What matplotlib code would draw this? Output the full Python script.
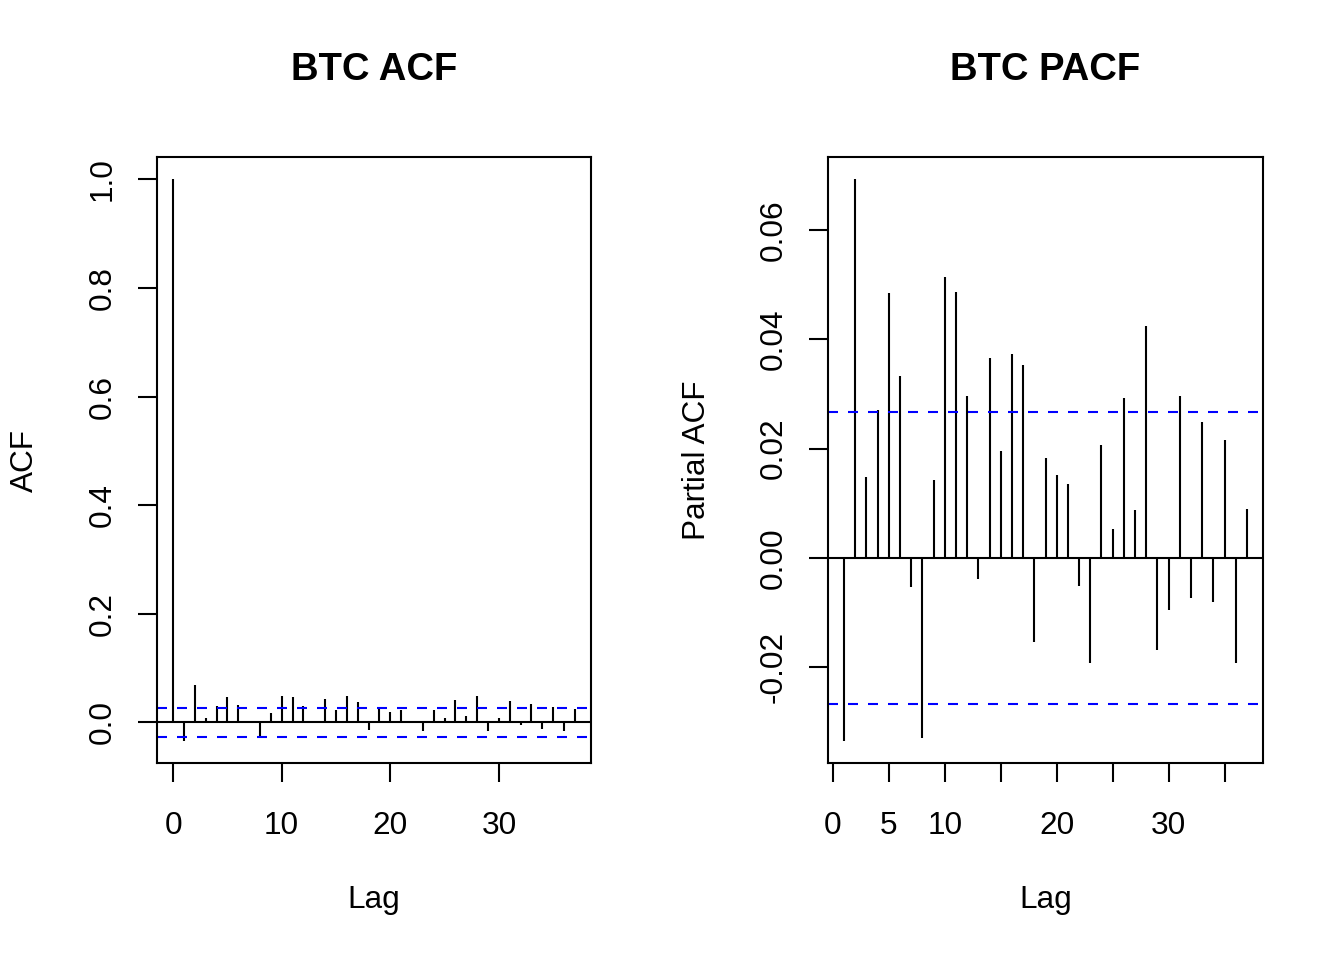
import numpy as np
import matplotlib
matplotlib.use('Agg')
import matplotlib.pyplot as plt

plt.rcParams['font.family'] = ['Liberation Sans', 'DejaVu Sans']

# values
acf_lags = list(range(0, 38))
acf_vals = [1.0, -0.0334, 0.068, 0.008, 0.030, 0.0467, 0.032, 0.001, -0.028, 0.017,
            0.0485, 0.0467, 0.030, 0.001, 0.043, 0.023, 0.0485, 0.037, -0.014, 0.026,
            0.019, 0.023, 0.0025, -0.016, 0.023, 0.008, 0.041, 0.012, 0.0485, -0.016,
            0.008, 0.039, -0.004, 0.034, -0.012, 0.028, -0.016, 0.0245]

pacf_lags = list(range(1, 38))
pacf_vals = [-0.0334, 0.0692, 0.0148, 0.0271, 0.0485, 0.0333, -0.0054, -0.0330, 0.0143,
             0.0514, 0.0487, 0.0296, -0.0038, 0.0365, 0.0196, 0.0372, 0.0353, -0.0154,
             0.0182, 0.0152, 0.0136, -0.0051, -0.0192, 0.0207, 0.0052, 0.0292, 0.0087,
             0.0424, -0.0168, -0.0096, 0.0296, -0.0074, 0.0249, -0.0081, 0.0216, -0.0192,
             0.0090]

clim = 0.0267

acf_yticks = [0.0, 0.2, 0.4, 0.6, 0.8, 1.0]
acf_yticklabels = ['0.0', '0.2', '0.4', '0.6', '0.8', '1.0']
acf_xticks = [0, 10, 20, 30]
pacf_yticks = [-0.02, 0.0, 0.02, 0.04, 0.06]
pacf_yticklabels = ['-0.02', '0.00', '0.02', '0.04', '0.06']
pacf_xticks = [0, 5, 10, 15, 20, 25, 30, 35]
pacf_xticklabels = ['0', '5', '10', '', '20', '', '30', '']

W, H = 1344, 960
LW = 1.5
FS = 22.7


def panel(rect, lags, vals, title, yticks, yticklabels, xticks, xticklabels):
    l, r, t, b = rect
    ax = fig.add_axes([l / W, 1 - b / H, (r - l) / W, (b - t) / H])
    vals = np.array(vals)
    ax.vlines(lags, 0, vals, colors='black', linewidth=LW)
    ax.axhline(0, color='black', linewidth=LW)
    for c in (clim, -clim):
        ax.axhline(c, color='blue', linewidth=LW, linestyle=(0, (4.8, 4.8)))

    # R style 4% padding
    x0, x1 = min(lags), max(lags)
    dx = (x1 - x0) * 0.04
    ax.set_xlim(x0 - dx, x1 + dx)
    lo = min(vals.min(), -clim)
    hi = max(vals.max(), clim)
    dy = (hi - lo) * 0.04
    ax.set_ylim(lo - dy, hi + dy)

    ax.set_xticks(xticks)
    ax.set_xticklabels(xticklabels)
    ax.set_yticks(yticks)
    ax.set_yticklabels(yticklabels, rotation=90, va='center')
    ax.tick_params(axis='both', direction='out', length=13.5, width=LW,
                   labelsize=FS)
    ax.tick_params(axis='x', pad=21)
    ax.tick_params(axis='y', pad=15)
    for s in ax.spines.values():
        s.set_linewidth(LW)

    cx = ((l + r) / 2) / W
    fig.text(cx, 1 - 70 / H, title, ha='center', va='center',
             fontsize=27.5, fontweight='bold')
    fig.text(cx, 1 - 900 / H, 'Lag', ha='center', va='center', fontsize=FS)
    return ax


fig = plt.figure(figsize=(W / 100, H / 100), dpi=100)

ax1 = panel((157, 591, 157, 763), acf_lags, acf_vals, 'BTC ACF',
            acf_yticks, acf_yticklabels, acf_xticks, [str(v) for v in acf_xticks])
fig.text(25 / W, 1 - 460 / H, 'ACF', rotation=90, ha='center', va='center', fontsize=FS)

ax2 = panel((828, 1263, 157, 763), pacf_lags, pacf_vals, 'BTC PACF',
            pacf_yticks, pacf_yticklabels, pacf_xticks, pacf_xticklabels)
fig.text(697 / W, 1 - 460 / H, 'Partial ACF', rotation=90, ha='center', va='center', fontsize=FS)

fig.savefig('out.png', dpi=100)
